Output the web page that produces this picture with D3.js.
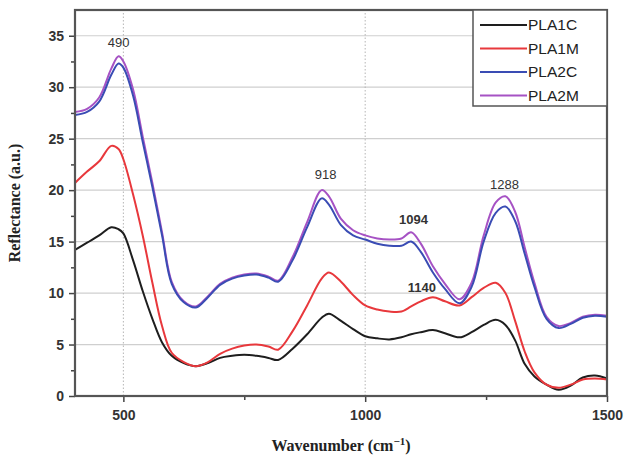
<!DOCTYPE html>
<html>
<head>
<meta charset="utf-8">
<title>Reflectance spectra</title>
<script src="https://cdn.jsdelivr.net/npm/d3@7"></script>
<style>
  body { margin: 0; background: #fff; }
  .tick text { font-family: "Liberation Sans", Arial, sans-serif; font-weight: bold; font-size: 14px; fill: #333; }
  .title { font-family: "Liberation Serif", "Times New Roman", serif; font-weight: bold; font-size: 16px; fill: #222; }
  .note { font-family: "Liberation Sans", Arial, sans-serif; font-size: 13px; fill: #333; }
</style>
</head>
<body>
<script>

// wavenumbers (cm-1) sampled off the figure
var wavenumber = [400, 425, 450, 475, 490, 500, 520, 540, 560, 580, 600, 625, 650, 675, 700, 725,
  750, 775, 800, 820, 850, 880, 910, 925, 950, 975, 1000, 1025, 1050, 1075, 1095, 1115,
  1140, 1165, 1195, 1220, 1245, 1270, 1290, 1310, 1330, 1350, 1375, 1400, 1425, 1450, 1475, 1500];

var pla1c = [14.2, 14.9, 15.6, 16.4, 16.2, 15.8, 13.2, 10.2, 7.5, 5.2, 3.9, 3.2, 2.9, 3.2, 3.7, 3.9,
  4.0, 3.9, 3.7, 3.5, 4.6, 6.0, 7.6, 8.0, 7.3, 6.5, 5.8, 5.6, 5.5, 5.7, 6.0, 6.2,
  6.4, 6.1, 5.7, 6.2, 6.9, 7.4, 6.9, 5.4, 3.1, 1.9, 1.1, 0.6, 1.0, 1.8, 2.0, 1.7];

var pla1m = [20.7, 21.8, 22.8, 24.3, 24.0, 23.0, 19.6, 15.6, 11.0, 6.8, 4.2, 3.3, 2.9, 3.3, 4.1, 4.6,
  4.9, 5.0, 4.8, 4.5, 6.3, 8.8, 11.4, 12.0, 11.1, 9.8, 8.8, 8.4, 8.2, 8.2, 8.7, 9.2,
  9.6, 9.2, 8.8, 9.6, 10.5, 11.0, 10.0, 7.3, 4.3, 2.3, 1.1, 0.8, 1.1, 1.6, 1.7, 1.6];

var pla2c = [27.3, 27.6, 28.6, 31.2, 32.3, 31.9, 29.2, 24.7, 20.3, 15.6, 10.9, 9.1, 8.6, 9.6, 10.8, 11.4,
  11.7, 11.8, 11.5, 11.1, 13.2, 16.4, 19.2, 18.6, 16.6, 15.6, 15.2, 14.8, 14.6, 14.6, 15.0, 14.0,
  12.0, 10.4, 9.0, 10.6, 15.0, 17.8, 18.4, 17.0, 13.8, 10.6, 7.5, 6.6, 7.0, 7.6, 7.8, 7.7];

var pla2m = [27.6, 27.9, 29.0, 31.8, 33.0, 32.5, 29.8, 25.2, 20.7, 15.9, 11.1, 9.2, 8.7, 9.7, 10.9, 11.5,
  11.8, 11.9, 11.6, 11.2, 13.5, 16.9, 20.0, 19.4, 17.2, 16.1, 15.6, 15.3, 15.2, 15.3, 15.9, 14.8,
  12.6, 10.9, 9.4, 11.0, 15.6, 18.8, 19.4, 17.9, 14.4, 11.0, 7.7, 6.8, 7.1, 7.7, 7.9, 7.8];

var seriesNames = ["PLA1C", "PLA1M", "PLA2C", "PLA2M"];
var seriesColors = ["#1e1e1e", "#e8383c", "#3a4cb4", "#a652c4"];

var xTicks = [500, 1000, 1500];
var xMinor = [750, 1250];
var yTicks = [0, 5, 10, 15, 20, 25, 30, 35];

// peak labels
var peaks = [
  { label: "490", wn: 490, val: 34.3, bold: false },
  { label: "918", wn: 918, val: 21.5, bold: false },
  { label: "1094", wn: 1100, val: 17.2, bold: true },
  { label: "1140", wn: 1117, val: 10.5, bold: true },
  { label: "1288", wn: 1288, val: 20.6, bold: false }
];

var width = 627, height = 460;
var margin = { top: 10, right: 20, bottom: 64, left: 75 };

var svg = d3.select("body").append("svg")
    .attr("width", width)
    .attr("height", height);

var x = d3.scaleLinear().domain([400, 1500]).range([margin.left, width - margin.right]);
var y = d3.scaleLinear().domain([0, 37.5]).range([height - margin.bottom, margin.top]);

// grid
svg.append("g").selectAll("line")
    .data(yTicks.slice(1))
  .enter().append("line")
    .attr("x1", x(400)).attr("x2", x(1500))
    .attr("y1", function(d) { return y(d); }).attr("y2", function(d) { return y(d); })
    .attr("stroke", "#cfcfcf").attr("stroke-width", 1.2);

svg.append("g").selectAll("line")
    .data([500, 1000])
  .enter().append("line")
    .attr("x1", function(d) { return x(d); }).attr("x2", function(d) { return x(d); })
    .attr("y1", y(0)).attr("y2", y(37.5))
    .attr("stroke", "#b5b5b5").attr("stroke-width", 1).attr("stroke-dasharray", "1.5,2");

// curves
var all = [pla1c, pla1m, pla2m, pla2c];
var allNames = ["PLA1C", "PLA1M", "PLA2M", "PLA2C"];
var line = d3.line()
    .x(function(d, i) { return x(wavenumber[i]); })
    .y(function(d) { return y(d); })
    .curve(d3.curveCatmullRom.alpha(0.5));

svg.append("g").selectAll("path")
    .data(all)
  .enter().append("path")
    .attr("d", line)
    .attr("fill", "none")
    .attr("stroke-width", 2)
    .attr("stroke", function(d, i) { return seriesColors[seriesNames.indexOf(allNames[i])]; });

// axes
var xAxis = svg.append("g")
    .attr("transform", "translate(0," + y(0) + ")")
    .call(d3.axisBottom(x).tickValues(xTicks).tickSize(6).tickPadding(8).tickFormat(d3.format("d")));
xAxis.select(".domain").remove();
xAxis.selectAll("line").attr("stroke", "#444").attr("stroke-width", 1.5);

svg.append("g")
    .attr("transform", "translate(0," + y(0) + ")")
    .call(d3.axisBottom(x).tickValues(xMinor).tickSize(4).tickFormat(""))
  .call(function(g) { g.select(".domain").remove(); g.selectAll("line").attr("stroke", "#444").attr("stroke-width", 1.5); });

var yAxis = svg.append("g")
    .attr("transform", "translate(" + x(400) + ",0)")
    .call(d3.axisLeft(y).tickValues(yTicks).tickSize(6).tickPadding(5));
yAxis.select(".domain").remove();
yAxis.selectAll("line").attr("stroke", "#444").attr("stroke-width", 1.5);

svg.append("g")
    .attr("transform", "translate(" + x(400) + ",0)")
    .call(d3.axisLeft(y).tickValues(d3.range(2.5, 37.5, 5)).tickSize(4).tickFormat(""))
  .call(function(g) { g.select(".domain").remove(); g.selectAll("line").attr("stroke", "#444").attr("stroke-width", 1.5); });

// frame
svg.append("rect")
    .attr("x", x(400)).attr("y", y(37.5))
    .attr("width", x(1500) - x(400)).attr("height", y(0) - y(37.5))
    .attr("fill", "none").attr("stroke", "#555").attr("stroke-width", 2.2);

// peak annotations
svg.append("g").selectAll("text")
    .data(peaks)
  .enter().append("text")
    .attr("class", "note")
    .attr("x", function(d) { return x(d.wn); })
    .attr("y", function(d) { return y(d.val); })
    .attr("text-anchor", "middle")
    .attr("dy", "0.35em")
    .style("font-weight", function(d) { return d.bold ? "bold" : "normal"; })
    .text(function(d) { return d.label; });

// legend
var lg = svg.append("g").attr("transform", "translate(473," + y(37.5) + ")");
lg.append("rect")
    .attr("width", x(1500) - 473).attr("height", 96)
    .attr("fill", "#fff").attr("stroke", "#555").attr("stroke-width", 1.5);
var item = lg.selectAll(".item")
    .data(seriesNames)
  .enter().append("g")
    .attr("transform", function(d, i) { return "translate(0," + (15 + i * 23.5) + ")"; });
item.append("line")
    .attr("x1", 7).attr("x2", 54)
    .attr("stroke", function(d, i) { return seriesColors[i]; })
    .attr("stroke-width", 2);
item.append("text")
    .attr("x", 55).attr("dy", "0.35em")
    .style("font-family", "'Liberation Sans', Arial, sans-serif")
    .style("font-size", "15.5px").style("fill", "#222")
    .text(function(d) { return d; });

// axis titles
svg.append("text")
    .attr("class", "title")
    .attr("transform", "translate(20," + ((y(0) + y(37.5)) / 2) + ") rotate(-90)")
    .attr("text-anchor", "middle")
    .text("Reflectance (a.u.)");

var xt = svg.append("text")
    .attr("class", "title")
    .attr("x", (x(400) + x(1500)) / 2)
    .attr("y", 451)
    .attr("text-anchor", "middle");
xt.append("tspan").text("Wavenumber (cm");
xt.append("tspan").attr("dy", -6).style("font-size", "11px").text("\u22121");
xt.append("tspan").attr("dy", 6).text(")");

</script>
</body>
</html>
